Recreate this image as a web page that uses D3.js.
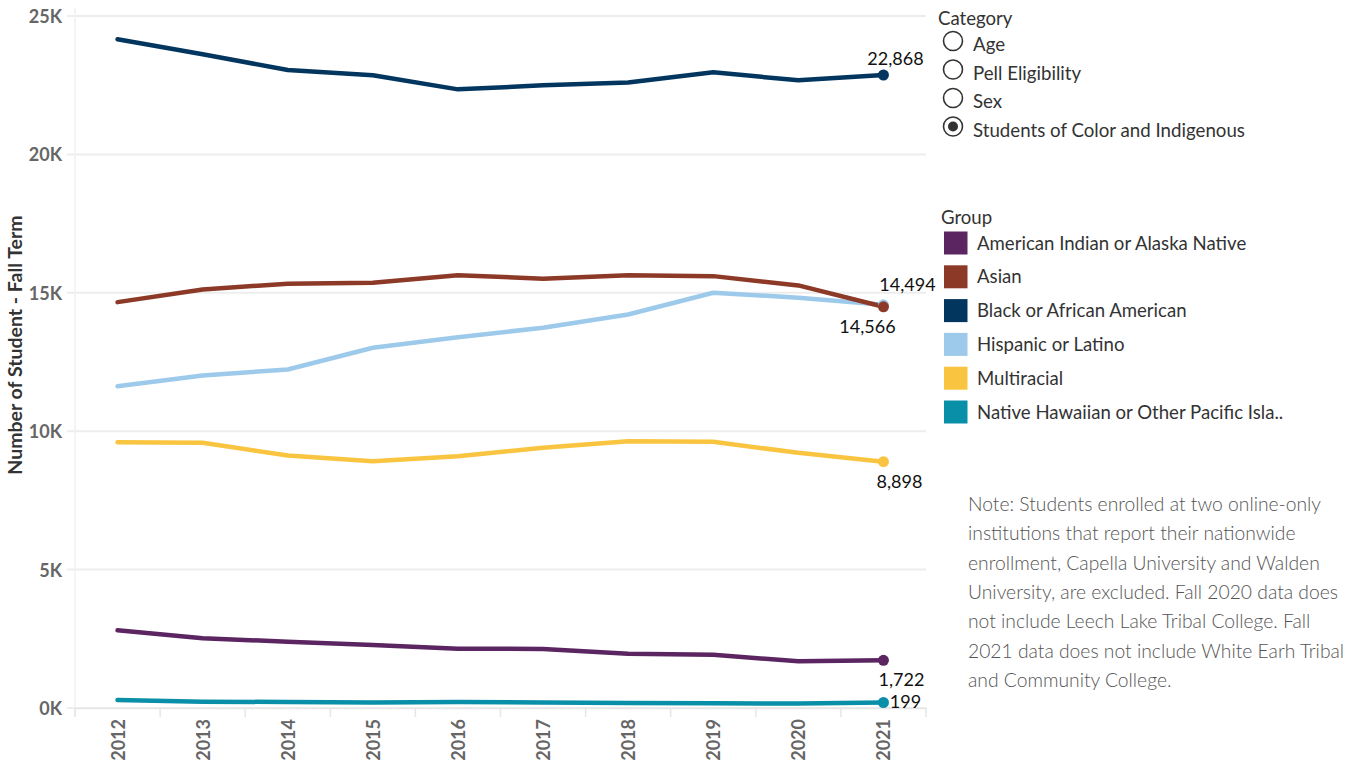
<!DOCTYPE html>
<html>
<head>
<meta charset="utf-8">
<script src="https://cdn.jsdelivr.net/npm/d3@7"></script>
<style>
    body { margin: 0; background: #fff; }
    svg { display: block; }
</style>
</head>
<body>
<div id="chart"></div>
<script>
(function () {
    var years = ["2012", "2013", "2014", "2015", "2016", "2017", "2018", "2019", "2020", "2021"];
    var groups = [
        "American Indian or Alaska Native",
        "Asian",
        "Black or African American",
        "Hispanic or Latino",
        "Multiracial",
        "Native Hawaiian or Other Pacific Isla.."
    ];
    var aianValues = [2805, 2516, 2397, 2277, 2144, 2133, 1963, 1927, 1685, 1722];
    var asianValues = [14663, 15122, 15328, 15364, 15638, 15508, 15638, 15602, 15266, 14494];
    var blackValues = [24159, 23616, 23049, 22858, 22350, 22495, 22600, 22966, 22676, 22868];
    var hispanicValues = [11626, 12013, 12230, 13014, 13397, 13737, 14218, 15002, 14822, 14566];
    var multiValues = [9601, 9580, 9121, 8915, 9096, 9399, 9638, 9616, 9218, 8898];
    var nhpiValues = [289, 228, 217, 202, 217, 202, 181, 170, 159, 199];
    var yTicks = [0, 5000, 10000, 15000, 20000, 25000];
    var categories = ["Age", "Pell Eligibility", "Sex", "Students of Color and Indigenous"];
    var selectedCategory = "Students of Color and Indigenous";
    var noteLines = [
        "Note: Students enrolled at two online-only",
        "institutions that report their nationwide",
        "enrollment, Capella University and Walden",
        "University, are excluded. Fall 2020 data does",
        "not include Leech Lake Tribal College. Fall",
        "2021 data does not include White Earh Tribal",
        "and Community College."
    ];

    var colors = ["#5b2561", "#8c3a27", "#03365f", "#9dcaeb", "#f9c440", "#0a8fa8"];
    var series = [aianValues, asianValues, blackValues, hispanicValues, multiValues, nhpiValues];
    // where the end label sits relative to the last point
    var labelOffsets = [[18, 26], [24, -16], [12, -10], [-16, 28], [16, 26], [22, 6]];

    var width = 1354;
    var height = 761;
    var left = 75;
    var right = 926;
    var top = 16;
    var bottom = 708;
    var uiFont = "Lato, 'Noto Sans', sans-serif";

    var svg = d3.select("#chart")
        .append("svg")
        .attr("width", width)
        .attr("height", height);

    var xBand = d3.scaleBand().domain(years).range([left, right]);
    var x = function (year) { return xBand(year) + xBand.bandwidth() / 2; };
    var y = d3.scaleLinear().domain([0, 25000]).range([bottom, top]);

    // gridlines
    svg.append("g")
        .selectAll("line")
        .data(yTicks)
        .enter()
        .append("line")
        .attr("x1", left - 8)
        .attr("x2", right)
        .attr("y1", function (d) { return y(d); })
        .attr("y2", function (d) { return y(d); })
        .attr("stroke", "#ededed")
        .attr("stroke-width", 2);

    svg.append("line")
        .attr("x1", left).attr("x2", left)
        .attr("y1", 8).attr("y2", bottom + 8)
        .attr("stroke", "#f0f0f0")
        .attr("stroke-width", 1.5);

    // y axis
    var yAxis = d3.axisLeft(y)
        .tickValues(yTicks)
        .tickSize(0)
        .tickPadding(0)
        .tickFormat(function (d) { return (d / 1000) + "K"; });
    var yg = svg.append("g")
        .attr("transform", "translate(" + (left - 13) + ",0)")
        .call(yAxis);
    yg.select(".domain").remove();
    yg.selectAll("text")
        .attr("font-family", uiFont)
        .attr("font-weight", "bold")
        .attr("font-size", 18)
        .attr("fill", "#666")
        .attr("dy", "0.36em");

    svg.append("text")
        .attr("transform", "translate(22," + 345 + ") rotate(-90)")
        .attr("text-anchor", "middle")
        .attr("font-family", uiFont)
        .attr("font-weight", "bold")
        .attr("font-size", 19.5)
        .attr("fill", "#333")
        .text("Number of Student - Fall Term");

    // x axis
    var xAxis = d3.axisBottom(xBand).tickSize(0).tickPadding(0);
    var xg = svg.append("g")
        .attr("transform", "translate(0," + bottom + ")")
        .call(xAxis);
    xg.select(".domain")
        .attr("stroke", "#e6e6e6")
        .attr("stroke-width", 1.5);
    xg.selectAll("text")
        .attr("font-family", uiFont)
        .attr("font-weight", "bold")
        .attr("font-size", 18)
        .attr("fill", "#666")
        .attr("text-anchor", "end")
        .attr("transform", "translate(7,11) rotate(-90)")
        .attr("dy", 0)
        .attr("x", 0)
        .attr("y", 0);

    var boundaries = years.map(function (d) { return xBand(d); }).concat([right]);
    svg.append("g")
        .selectAll("line")
        .data(boundaries)
        .enter()
        .append("line")
        .attr("x1", function (d) { return d; })
        .attr("x2", function (d) { return d; })
        .attr("y1", bottom)
        .attr("y2", bottom + 9)
        .attr("stroke", "#e6e6e6")
        .attr("stroke-width", 1.5);

    // lines
    var line = d3.line()
        .x(function (d, i) { return x(years[i]); })
        .y(function (d) { return y(d); });

    var order = [5, 4, 3, 2, 1, 0];
    var plot = svg.append("g");
    order.forEach(function (k) {
        plot.append("path")
            .datum(series[k])
            .attr("fill", "none")
            .attr("stroke", colors[k])
            .attr("stroke-width", 4.5)
            .attr("stroke-linejoin", "round")
            .attr("stroke-linecap", "round")
            .attr("d", line);
    });
    order.forEach(function (k) {
        var last = series[k][series[k].length - 1];
        plot.append("circle")
            .attr("cx", x(years[years.length - 1]))
            .attr("cy", y(last))
            .attr("r", 5.5)
            .attr("fill", colors[k]);
    });

    order.forEach(function (k) {
        var last = series[k][series[k].length - 1];
        plot.append("text")
            .attr("x", x(years[years.length - 1]) + labelOffsets[k][0])
            .attr("y", y(last) + labelOffsets[k][1])
            .attr("text-anchor", "middle")
            .attr("font-family", uiFont)
            .attr("font-size", 18)
            .attr("fill", "#111")
            .text(d3.format(",")(last));
    });

    // category radio list
    var cat = svg.append("g");
    cat.append("text")
        .attr("x", 938).attr("y", 25)
        .attr("font-family", uiFont)
        .attr("font-size", 18.6)
        .attr("fill", "#333")
        .text("Category");
    categories.forEach(function (c, i) {
        var cy = 41 + i * 28.5;
        cat.append("circle")
            .attr("cx", 953).attr("cy", cy).attr("r", 9.5)
            .attr("fill", "#fff")
            .attr("stroke", "#333")
            .attr("stroke-width", 1.6);
        if (c === selectedCategory) {
            cat.append("circle")
                .attr("cx", 953).attr("cy", cy).attr("r", 5)
                .attr("fill", "#333");
        }
        cat.append("text")
            .attr("x", 973).attr("y", cy + 10)
            .attr("font-family", uiFont)
            .attr("font-size", 18.7)
            .attr("fill", "#333")
            .text(c);
    });

    // group legend
    var leg = svg.append("g");
    leg.append("text")
        .attr("x", 941).attr("y", 224)
        .attr("font-family", uiFont)
        .attr("font-size", 18.6)
        .attr("fill", "#333")
        .text("Group");
    groups.forEach(function (g, i) {
        var cy = 243 + i * 33.8;
        leg.append("rect")
            .attr("x", 944).attr("y", cy - 11.5)
            .attr("width", 23.5).attr("height", 23)
            .attr("fill", colors[i]);
        leg.append("text")
            .attr("x", 977).attr("y", cy + 6.5)
            .attr("font-family", uiFont)
            .attr("font-size", 18.6)
            .attr("fill", "#333")
            .text(g);
    });

    // note
    svg.append("g")
        .selectAll("text")
        .data(noteLines)
        .enter()
        .append("text")
        .attr("x", 968)
        .attr("y", function (d, i) { return 511 + i * 29.3; })
        .attr("font-family", uiFont)
        .attr("font-size", 19.3)
        .attr("font-weight", 300)
        .attr("fill", "#555")
        .text(function (d) { return d; });
}());
</script>
</body>
</html>
